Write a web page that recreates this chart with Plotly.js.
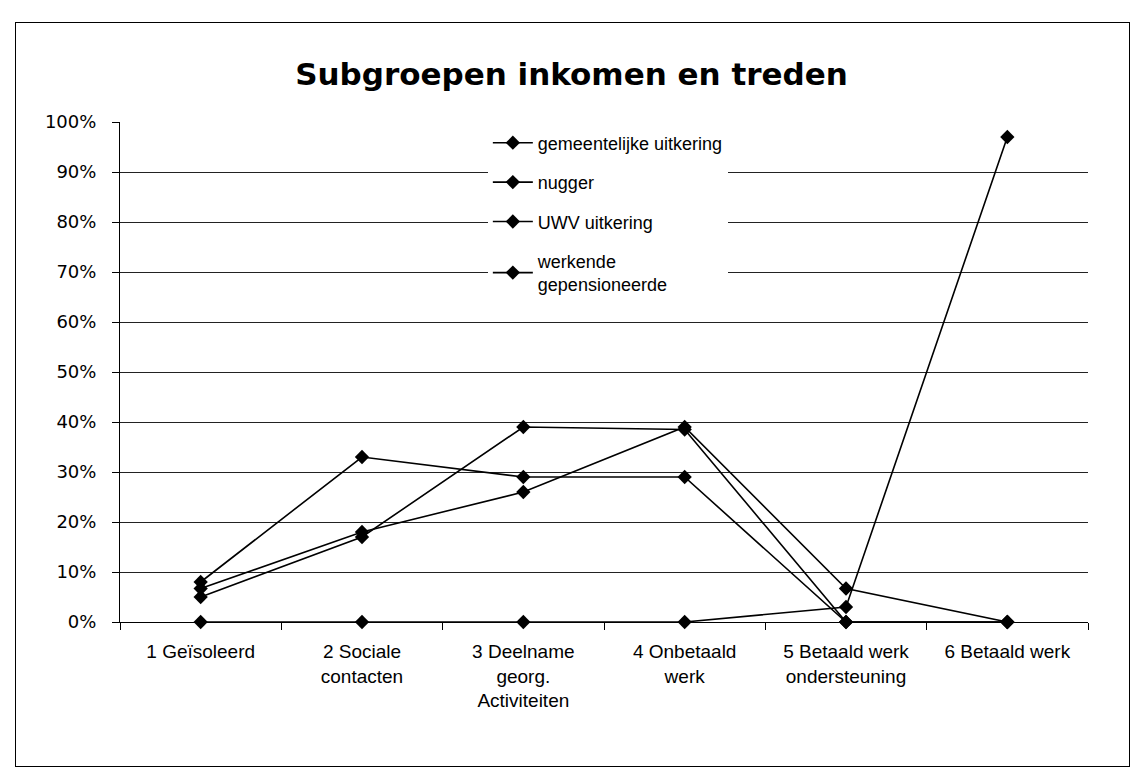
<!DOCTYPE html>
<html>
<head>
<meta charset="utf-8">
<script src="https://cdn.plot.ly/plotly-3.0.1.min.js"></script>
<style>
  html, body { margin: 0; padding: 0; background: #fff; }
  #wrap { position: relative; width: 1143px; height: 782px; }
  #chart { position: absolute; left: 0; top: 0; width: 1143px; height: 782px; }
  #frame { position: absolute; left: 15px; top: 22px; width: 1113px; height: 743px;
           border: 1px solid #000; pointer-events: none; }
</style>
</head>
<body>
<div id="wrap">
  <div id="chart"></div>
  <div id="frame"></div>
</div>
<script>
const categories = [
  "1 Geïsoleerd",
  "2 Sociale<br>contacten",
  "3 Deelname<br>georg.<br>Activiteiten",
  "4 Onbetaald<br>werk",
  "5 Betaald werk<br>ondersteuning",
  "6 Betaald werk"
];
const seriesNames = [
  "gemeentelijke uitkering",
  "nugger",
  "UWV uitkering",
  "werkende<br>gepensioneerde"
];
const gemeentelijkeUitkering = [0.08, 0.33, 0.29, 0.29, 0.00, 0.00];
const nugger                 = [0.05, 0.17, 0.39, 0.385, 0.00, 0.00];
const uwvUitkering           = [0.067, 0.18, 0.26, 0.39, 0.067, 0.00];
const werkendeGepensioneerde = [0.00, 0.00, 0.00, 0.00, 0.03, 0.97];
const seriesValues = [gemeentelijkeUitkering, nugger, uwvUitkering, werkendeGepensioneerde];
const yTickValues = [0, 0.1, 0.2, 0.3, 0.4, 0.5, 0.6, 0.7, 0.8, 0.9, 1.0];

const traces = seriesValues.map((vals, i) => ({
  type: 'scatter',
  mode: 'lines+markers',
  name: seriesNames[i],
  legendgroup: 'g' + i,
  x: categories,
  y: vals,
  line: { color: '#000', width: 1.6 },
  marker: { symbol: 'diamond', size: 11, color: '#000' },
  cliponaxis: false
}));

const layout = {
  width: 1143,
  height: 782,
  paper_bgcolor: '#fff',
  plot_bgcolor: '#fff',
  margin: { l: 120, r: 55, t: 122, b: 160 },
  title: {
    text: '<b>Subgroepen inkomen en treden</b>',
    font: { family: 'DejaVu Sans, Verdana, sans-serif', size: 31, color: '#000' },
    x: 0.5, xanchor: 'center',
    y: 0.905, yanchor: 'middle'
  },
  showlegend: true,
  legend: {
    x: 0.38, xanchor: 'left',
    y: 0.995, yanchor: 'top',
    bgcolor: '#fff',
    borderwidth: 0,
    font: { family: 'Liberation Sans, Arial, sans-serif', size: 18, color: '#000' },
    traceorder: 'grouped',
    tracegroupgap: 13,
    itemwidth: 40
  },
  xaxis: {
    type: 'category',
    range: [-0.5, 5.5],
    showline: true,
    linecolor: '#000',
    linewidth: 1,
    ticks: 'outside',
    tickson: 'boundaries',
    ticklen: 7,
    tickcolor: '#000',
    showgrid: false,
    ticklabelstandoff: 12,
    tickfont: { family: 'Liberation Sans, Arial, sans-serif', size: 19, color: '#000' },
    automargin: false
  },
  yaxis: {
    range: [0, 1],
    tickvals: yTickValues,
    tickformat: '.0%',
    showline: true,
    linecolor: '#000',
    linewidth: 1,
    ticks: 'outside',
    ticklen: 7,
    tickcolor: '#000',
    showgrid: true,
    gridcolor: '#222',
    gridwidth: 1,
    zeroline: false,
    ticklabelstandoff: 12,
    tickfont: { family: 'DejaVu Sans, Verdana, sans-serif', size: 18, color: '#000' },
    automargin: false
  }
};

Plotly.newPlot('chart', traces, layout, { staticPlot: true, displayModeBar: false });
</script>
</body>
</html>
